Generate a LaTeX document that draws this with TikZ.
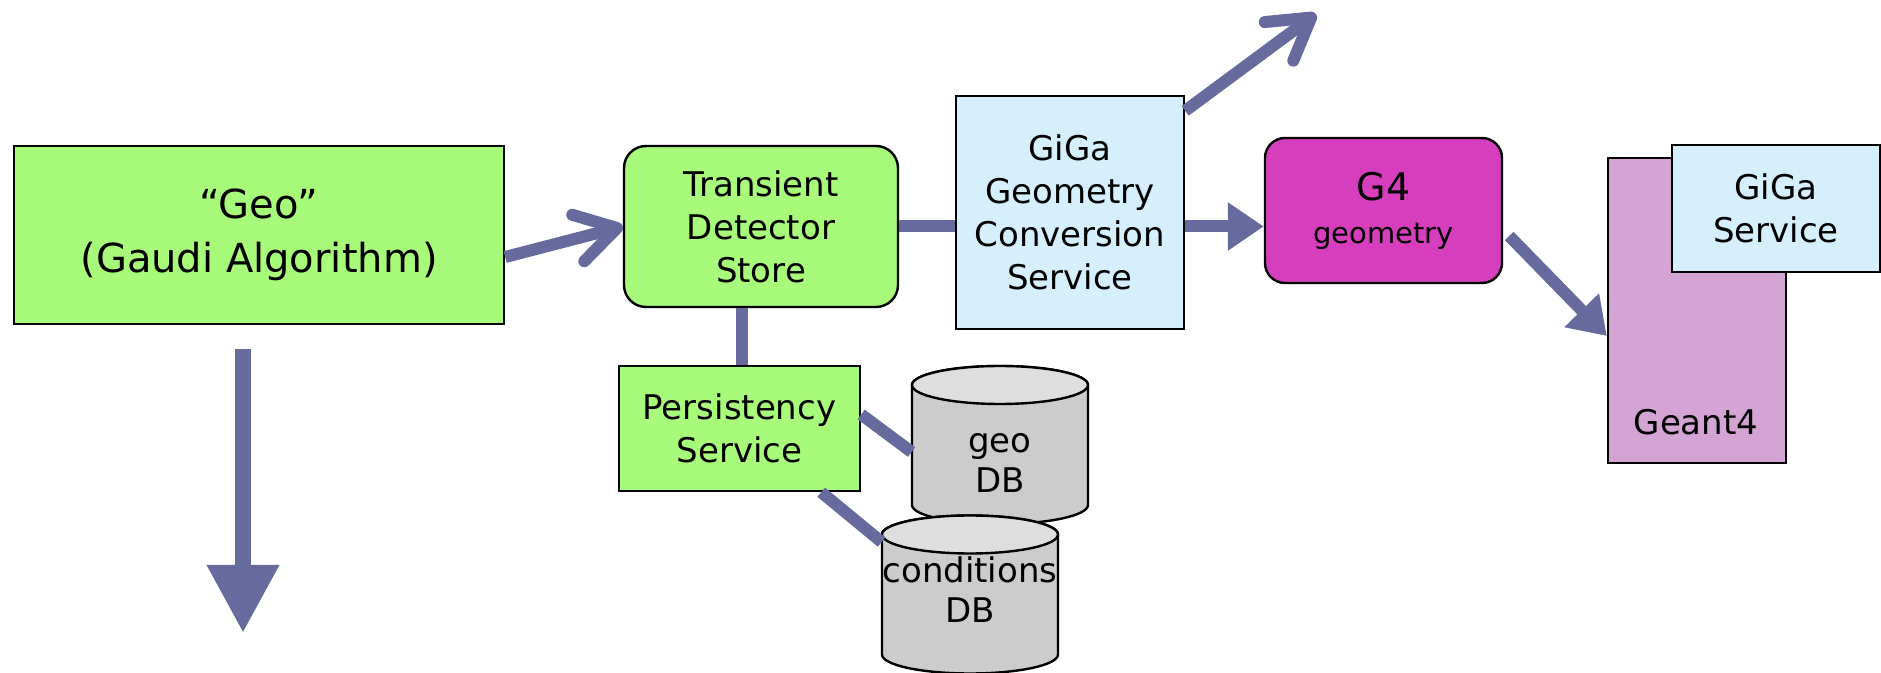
\documentclass[tikz,border=0pt]{standalone}
\usepackage{fontspec}
\setmainfont{DejaVu Sans}
\usetikzlibrary{arrows.meta}
\definecolor{boxgreen}{RGB}{168,250,122}
\definecolor{boxblue}{RGB}{214,239,253}
\definecolor{boxmagenta}{RGB}{214,62,190}
\definecolor{boxlilac}{RGB}{212,164,212}
\definecolor{dbgray}{RGB}{204,204,204}
\definecolor{dbtop}{RGB}{221,222,221}
\definecolor{flowcol}{RGB}{102,106,156}
\tikzset{
  block/.style={draw=black,line width=1.2pt,align=center,inner sep=0pt,
    font=\fontsize{17}{21.5}\selectfont},
  dbline/.style={draw=black,line width=1.2pt},
  dbtext/.style={align=center,inner sep=0pt,minimum width=88pt,
    minimum height=40pt,font=\fontsize{17}{20}\selectfont},
  flow/.style={draw=flowcol,line width=6pt},
  bigflow/.style={flow,line width=8pt,-{Triangle[length=34pt,width=34pt]}},
  headflow/.style={flow,-{Triangle[length=18pt,width=23pt]}},
  barbflow/.style={flow,-{Straight Barb[length=20pt,width=24pt,round]}},
}
% database drum round a centre coordinate
\newcommand{\drawdrum}[1]{%
  \draw[dbline,fill=dbgray] ([shift={(-88,-60)}]#1) -- ([shift={(-88,60)}]#1)
    arc[start angle=180,end angle=360,x radius=44pt,y radius=9.5pt]
    -- ([shift={(88,-60)}]#1)
    arc[start angle=0,end angle=180,x radius=44pt,y radius=9.5pt] -- cycle;
  \draw[dbline,fill=dbtop] ([shift={(0,-60)}]#1) ellipse[x radius=44pt,y radius=9.5pt];
}
\begin{document}
\begin{tikzpicture}[x=0.5pt,y=-0.5pt]
  \useasboundingbox (0,0) rectangle (1881,673);
  \node[block,fill=boxgreen,minimum width=245pt,minimum height=89pt,
    font=\fontsize{20}{27}\selectfont] (geo) at (259,235) {“Geo”\\(Gaudi Algorithm)};
  \node[block,fill=boxgreen,rounded corners=11pt,minimum width=137pt,
    minimum height=80.5pt] (tds) at (761,226.5) {Transient\\Detector\\Store};
  \node[block,fill=boxblue,minimum width=114pt,minimum height=116.5pt]
    (gcs) at (1070,212.5) {GiGa\\Geometry\\Conversion\\Service};
  \node[block,fill=boxmagenta,rounded corners=10pt,minimum width=118.5pt,
    minimum height=72.5pt] (g4) at (1383.5,210.5)
    {{\fontsize{19}{22}\selectfont G4}\\{\fontsize{14.5}{19}\selectfont geometry}};
  \node[block,fill=boxlilac,minimum width=89pt,minimum height=152.5pt]
    (g4t) at (1697,310.5) {};
  \node[font=\fontsize{17}{20}\selectfont] at (1696,422) {Geant4};
  \node[block,fill=boxblue,minimum width=104pt,minimum height=63.5pt]
    (gsvc) at (1776,208.5) {GiGa\\Service};
  \node[block,fill=boxgreen,minimum width=120.5pt,minimum height=62.5pt]
    (pers) at (739.5,428.5) {Persistency\\Service};

  \coordinate (gdbc) at (1000,445);
  \coordinate (cdbc) at (970,594.5);
  \drawdrum{gdbc}
  \node[dbtext] (gdb) at (1000,463) {geo\\DB};
  \drawdrum{cdbc}
  \node[dbtext] (cdb) at (970,589.5) {conditions\\DB};

  \coordinate (down) at (243,633);
  \coordinate (up) at (1316,14);

  % connectors
  \draw[barbflow] ([yshift=-11pt]geo.east) -- (tds.west);
  \draw[bigflow] ([xshift=-8pt,yshift=-12pt]geo.south) -- (down);
  \draw[flow] (tds.east) -- (tds.east -| gcs.west);
  \draw[headflow] (gcs.east |- tds.east) -- (g4.west |- tds.east);
  \draw[barbflow] ([yshift=-8pt]gcs.north east) -- (up);
  \draw[flow] ([xshift=-9.5pt]tds.south) -- ([xshift=-9.5pt]tds.south |- pers.north);
  \draw[flow] ([yshift=7pt]pers.east) -- ([yshift=5.5pt]gdb.west);
  \draw[flow] ([xshift=-20pt]pers.south east) -- ([yshift=23.75pt]cdb.west);
  \draw[headflow] ([xshift=3pt,yshift=-12.75pt]g4.east) -- ([yshift=-12.75pt]g4t.west);
\end{tikzpicture}
\end{document}
